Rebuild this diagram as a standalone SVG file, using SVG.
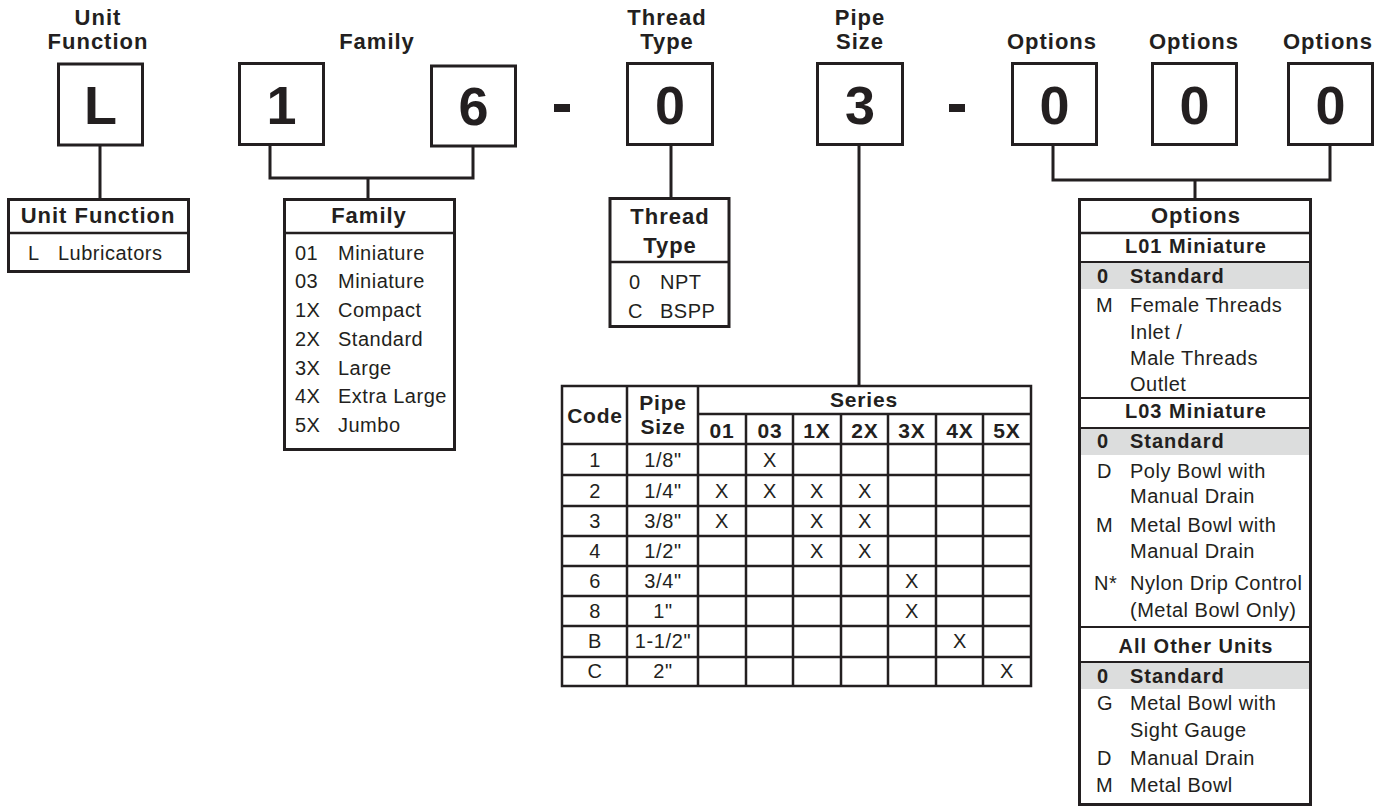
<svg xmlns="http://www.w3.org/2000/svg" width="1380" height="807" viewBox="0 0 1380 807">
<style>
text{font-family:"Liberation Sans",Arial,Helvetica,sans-serif;fill:#231f20}
.lbl{font-size:22px;font-weight:bold;letter-spacing:1px;text-anchor:middle}
.big{font-size:54px;font-weight:bold;text-anchor:middle}
.hd{font-size:22px;font-weight:bold;letter-spacing:1px;text-anchor:middle}
.sub{font-size:20px;font-weight:bold;letter-spacing:1px;text-anchor:middle}
.r{font-size:20px;letter-spacing:0.5px}
.b{font-size:20px;font-weight:bold;letter-spacing:1px}
.tc{font-size:20px;letter-spacing:0.6px;text-anchor:middle}
.th{font-size:21px;font-weight:bold;letter-spacing:0.8px;text-anchor:middle}
.box{fill:#fff;stroke:#231f20;stroke-width:3}
.ln{stroke:#231f20;stroke-width:3;fill:none}
.gl{stroke:#231f20;stroke-width:2.5;fill:none}
.sl{stroke:#231f20;stroke-width:2;fill:none}
.band{fill:#dcdddd}
.dash{fill:#231f20}
</style>

<g id="connectors">
<path class="ln" d="M100,146V199"/>
<path class="ln" d="M270,145V178H473V147M368,178V199"/>
<path class="ln" d="M671,146V198"/>
<path class="ln" d="M859,145V386"/>
<path class="ln" d="M1053,146V180H1330V146M1195,180V199"/>
</g>

<g id="labels">
<text class="lbl" x="98" y="25">Unit</text>
<text class="lbl" x="98" y="49">Function</text>
<text class="lbl" x="377" y="49">Family</text>
<text class="lbl" x="667" y="25">Thread</text>
<text class="lbl" x="667" y="49">Type</text>
<text class="lbl" x="860" y="25">Pipe</text>
<text class="lbl" x="860" y="49">Size</text>
<text class="lbl" x="1052" y="49">Options</text>
<text class="lbl" x="1194" y="49">Options</text>
<text class="lbl" x="1328" y="49">Options</text>
</g>

<g id="box-L"><rect class="box" x="58.5" y="64" width="84" height="81"/><text class="big" x="100.5" y="124">L</text></g>
<g id="box-1"><rect class="box" x="239.5" y="63.5" width="84" height="81"/><text class="big" x="281.5" y="124">1</text></g>
<g id="box-6"><rect class="box" x="431.5" y="66" width="84" height="80"/><text class="big" x="473.5" y="125">6</text></g>
<g id="dash-1"><rect class="dash" x="554" y="104" width="16" height="8"/></g>
<g id="box-0"><rect class="box" x="627.5" y="63.5" width="85" height="81"/><text class="big" x="670" y="124">0</text></g>
<g id="box-3"><rect class="box" x="817.5" y="63.5" width="85" height="81"/><text class="big" x="860" y="124">3</text></g>
<g id="dash-2"><rect class="dash" x="949" y="104" width="16" height="8"/></g>
<g id="box-opt1"><rect class="box" x="1012.5" y="63.5" width="84" height="81"/><text class="big" x="1054.5" y="124">0</text></g>
<g id="box-opt2"><rect class="box" x="1152.5" y="63.5" width="84" height="81"/><text class="big" x="1194.5" y="124">0</text></g>
<g id="box-opt3"><rect class="box" x="1288.5" y="63.5" width="84" height="81"/><text class="big" x="1330.5" y="124">0</text></g>

<g id="table-unit-function">
<rect class="box" x="8.5" y="199.5" width="180" height="72"/>
<path class="gl" d="M8.5,233H188.5"/>
<text class="hd" x="98" y="223">Unit Function</text>
<text class="r" x="28" y="260">L</text>
<text class="r" x="58" y="260">Lubricators</text>
</g>

<g id="table-family">
<rect class="box" x="284.5" y="199.5" width="170" height="250"/>
<path class="gl" d="M284.5,233H454.5"/>
<text class="hd" x="369" y="223">Family</text>
<text class="r" x="295" y="260">01</text><text class="r" x="338" y="260">Miniature</text>
<text class="r" x="295" y="288">03</text><text class="r" x="338" y="288">Miniature</text>
<text class="r" x="295" y="317">1X</text><text class="r" x="338" y="317">Compact</text>
<text class="r" x="295" y="346">2X</text><text class="r" x="338" y="346">Standard</text>
<text class="r" x="295" y="375">3X</text><text class="r" x="338" y="375">Large</text>
<text class="r" x="295" y="403">4X</text><text class="r" x="338" y="403">Extra Large</text>
<text class="r" x="295" y="432">5X</text><text class="r" x="338" y="432">Jumbo</text>
</g>

<g id="table-thread-type">
<rect class="box" x="610" y="198.5" width="119" height="128"/>
<path class="gl" d="M610,262H729"/>
<text class="hd" x="670" y="224">Thread</text>
<text class="hd" x="670" y="253">Type</text>
<text class="r" x="629" y="289">0</text><text class="r" x="660" y="289">NPT</text>
<text class="r" x="628" y="318">C</text><text class="r" x="660" y="318">BSPP</text>
</g>

<g id="table-pipe-size">
<rect class="gl" x="562" y="386" width="469" height="300" fill="#fff"/>
<path class="gl" d="M627,386V686M698,386V686M698,414H1031M746,414V686M793,414V686M841,414V686M888,414V686M936,414V686M983,414V686"/>
<path class="gl" d="M562,444H1031M562,475H1031M562,506H1031M562,536H1031M562,566H1031M562,596H1031M562,626H1031M562,657H1031"/>
<text class="th" x="595" y="423">Code</text>
<text class="th" x="663" y="410">Pipe</text>
<text class="th" x="663" y="434">Size</text>
<text class="th" x="864" y="407">Series</text>
<text class="th" x="722" y="438">01</text>
<text class="th" x="770" y="438">03</text>
<text class="th" x="817" y="438">1X</text>
<text class="th" x="865" y="438">2X</text>
<text class="th" x="912" y="438">3X</text>
<text class="th" x="960" y="438">4X</text>
<text class="th" x="1007" y="438">5X</text>
<text class="tc" x="595" y="467">1</text><text class="tc" x="663" y="467">1/8"</text><text class="tc" x="770" y="467">X</text>
<text class="tc" x="595" y="498">2</text><text class="tc" x="663" y="498">1/4"</text><text class="tc" x="722" y="498">X</text><text class="tc" x="770" y="498">X</text><text class="tc" x="817" y="498">X</text><text class="tc" x="865" y="498">X</text>
<text class="tc" x="595" y="528">3</text><text class="tc" x="663" y="528">3/8"</text><text class="tc" x="722" y="528">X</text><text class="tc" x="817" y="528">X</text><text class="tc" x="865" y="528">X</text>
<text class="tc" x="595" y="558">4</text><text class="tc" x="663" y="558">1/2"</text><text class="tc" x="817" y="558">X</text><text class="tc" x="865" y="558">X</text>
<text class="tc" x="595" y="588">6</text><text class="tc" x="663" y="588">3/4"</text><text class="tc" x="912" y="588">X</text>
<text class="tc" x="595" y="618">8</text><text class="tc" x="663" y="618">1"</text><text class="tc" x="912" y="618">X</text>
<text class="tc" x="595" y="648">B</text><text class="tc" x="663" y="648">1-1/2"</text><text class="tc" x="960" y="648">X</text>
<text class="tc" x="595" y="678">C</text><text class="tc" x="663" y="678">2"</text><text class="tc" x="1007" y="678">X</text>
</g>

<g id="table-options">
<rect class="box" x="1079.5" y="199.5" width="231" height="605"/>
<rect class="band" x="1081" y="262" width="228" height="27"/>
<rect class="band" x="1081" y="428" width="228" height="27"/>
<rect class="band" x="1081" y="662" width="228" height="27"/>
<path class="gl" d="M1079.5,233H1310.5"/>
<path class="sl" d="M1079.5,262H1310.5M1079.5,398H1310.5M1079.5,428H1310.5M1079.5,627H1310.5M1079.5,662H1310.5"/>
<text class="hd" x="1196" y="223">Options</text>
<text class="sub" x="1196" y="253">L01 Miniature</text>
<text class="b" x="1097" y="283">0</text><text class="b" x="1130" y="283">Standard</text>
<text class="r" x="1096" y="312">M</text><text class="r" x="1130" y="312">Female Threads</text>
<text class="r" x="1130" y="339">Inlet /</text>
<text class="r" x="1130" y="365">Male Threads</text>
<text class="r" x="1130" y="391">Outlet</text>
<text class="sub" x="1196" y="418">L03 Miniature</text>
<text class="b" x="1097" y="448">0</text><text class="b" x="1130" y="448">Standard</text>
<text class="r" x="1097" y="478">D</text><text class="r" x="1130" y="478">Poly Bowl with</text>
<text class="r" x="1130" y="503">Manual Drain</text>
<text class="r" x="1096" y="532">M</text><text class="r" x="1130" y="532">Metal Bowl with</text>
<text class="r" x="1130" y="558">Manual Drain</text>
<text class="r" x="1094" y="590">N*</text><text class="r" x="1130" y="590">Nylon Drip Control</text>
<text class="r" x="1130" y="617">(Metal Bowl Only)</text>
<text class="sub" x="1196" y="653">All Other Units</text>
<text class="b" x="1097" y="683">0</text><text class="b" x="1130" y="683">Standard</text>
<text class="r" x="1097" y="710">G</text><text class="r" x="1130" y="710">Metal Bowl with</text>
<text class="r" x="1130" y="737">Sight Gauge</text>
<text class="r" x="1097" y="765">D</text><text class="r" x="1130" y="765">Manual Drain</text>
<text class="r" x="1096" y="792">M</text><text class="r" x="1130" y="792">Metal Bowl</text>
</g>
</svg>
